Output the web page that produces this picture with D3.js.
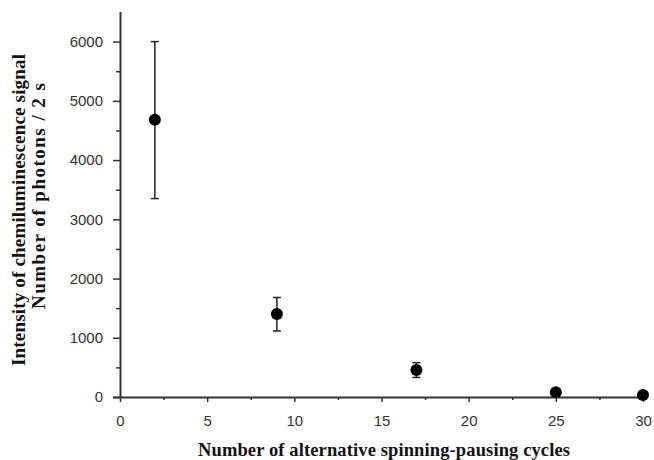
<!DOCTYPE html>
<html>
<head>
<meta charset="utf-8">
<script src="https://cdn.jsdelivr.net/npm/d3@7"></script>
<style>
  body { margin: 0; background: #fff; }
  .tick text { font-family: "Liberation Sans", Arial, sans-serif; font-size: 15px; fill: #333; }
  .lab { font-family: "Liberation Serif", "Times New Roman", serif; font-weight: bold; font-size: 18.5px; fill: #111; }
</style>
</head>
<body>
<div id="wrapper"></div>
<script>
// data
const cycles = [2, 9, 17, 25, 30];
const signal = [4680, 1400, 455, 80, 35];
const errLow = [3350, 1115, 330, null, null];
const errHigh = [6000, 1680, 580, null, null];
const xTicks = [0, 5, 10, 15, 20, 25, 30];
const yTicks = [0, 1000, 2000, 3000, 4000, 5000, 6000];

const dimension = {
    width: 654,
    height: 460,
    margin: { top: 12, left: 120, bottom: 63, right: 11 }
};
dimension.boundedWidth = dimension.width - dimension.margin.left - dimension.margin.right;
dimension.boundedHeight = dimension.height - dimension.margin.top - dimension.margin.bottom;

const svg = d3.select("#wrapper").append("svg")
    .attr("width", dimension.width)
    .attr("height", dimension.height);
const bounded = svg.append("g")
    .attr("transform", `translate(${dimension.margin.left},${dimension.margin.top})`);

const xScaler = d3.scaleLinear().domain([0, 30]).range([0, dimension.boundedWidth]);
const yScaler = d3.scaleLinear().domain([0, 6500]).range([dimension.boundedHeight, 0]);

// minor ticks first
bounded.append("g")
    .attr("transform", `translate(0,${dimension.boundedHeight})`)
    .call(d3.axisBottom(xScaler).tickValues(d3.range(2.5, 30, 5)).tickSize(3).tickFormat(""))
    .call(g => g.select(".domain").remove());
bounded.append("g")
    .call(d3.axisLeft(yScaler).tickValues(d3.range(500, 6500, 1000)).tickSize(4).tickFormat(""))
    .call(g => g.select(".domain").remove());

const xAxis = bounded.append("g")
    .attr("transform", `translate(0,${dimension.boundedHeight})`)
    .call(d3.axisBottom(xScaler).tickValues(xTicks).tickSize(5).tickPadding(13).tickSizeOuter(0).tickFormat(d3.format("d")));
xAxis.select(".domain").attr("d", `M-7,0.5H${dimension.boundedWidth}`);

const yAxis = bounded.append("g")
    .call(d3.axisLeft(yScaler).tickValues(yTicks).tickSize(7).tickPadding(10).tickSizeOuter(0).tickFormat(d3.format("d")));
yAxis.select(".domain").attr("d", `M0.5,0V${dimension.boundedHeight}`);

svg.selectAll(".domain").attr("stroke", "#333").attr("stroke-width", 2);
svg.selectAll(".tick line").attr("stroke", "#333").attr("stroke-width", 1.5);

const pts = cycles.map((c, i) => ({ x: c, y: signal[i], lo: errLow[i], hi: errHigh[i] }));

// error bars
const eb = bounded.selectAll(".err").data(pts.filter(d => d.lo != null)).join("g")
    .attr("stroke", "#222").attr("stroke-width", 1.5);
eb.append("line")
    .attr("x1", d => xScaler(d.x)).attr("x2", d => xScaler(d.x))
    .attr("y1", d => yScaler(d.hi)).attr("y2", d => yScaler(d.lo));
eb.append("line")
    .attr("x1", d => xScaler(d.x) - 4).attr("x2", d => xScaler(d.x) + 4)
    .attr("y1", d => yScaler(d.hi)).attr("y2", d => yScaler(d.hi));
eb.append("line")
    .attr("x1", d => xScaler(d.x) - 4).attr("x2", d => xScaler(d.x) + 4)
    .attr("y1", d => yScaler(d.lo)).attr("y2", d => yScaler(d.lo));

bounded.selectAll("circle").data(pts).join("circle")
    .attr("cx", d => xScaler(d.x))
    .attr("cy", d => yScaler(d.y))
    .attr("r", 6)
    .attr("fill", "#000");

svg.append("text").attr("class", "lab")
    .attr("x", 384).attr("y", 456)
    .attr("text-anchor", "middle")
    .attr("textLength", 372)
    .attr("lengthAdjust", "spacing")
    .text("Number of alternative spinning-pausing cycles");

svg.append("text").attr("class", "lab")
    .style("font-size", "19px")
    .attr("transform", "translate(25,210) rotate(-90)")
    .attr("text-anchor", "middle")
    .attr("textLength", 312)
    .attr("lengthAdjust", "spacing")
    .text("Intensity of chemiluminescence signal");
svg.append("text").attr("class", "lab")
    .style("font-size", "19px")
    .attr("transform", "translate(45,196) rotate(-90)")
    .attr("text-anchor", "middle")
    .attr("textLength", 226)
    .attr("lengthAdjust", "spacing")
    .text("Number of photons / 2 s");
</script>
</body>
</html>
